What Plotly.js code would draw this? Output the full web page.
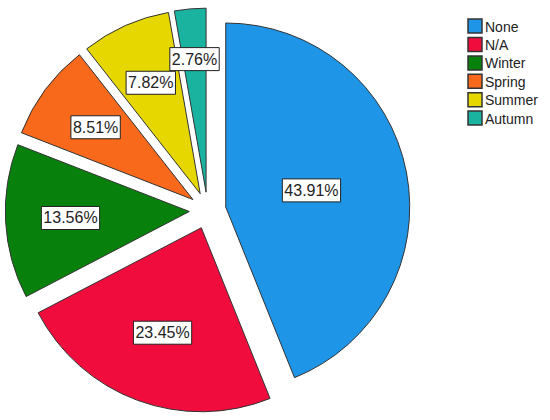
<!DOCTYPE html>
<html>
<head>
<meta charset="utf-8">
<script src="https://cdn.plot.ly/plotly-3.0.1.min.js"></script>
<style>html,body{margin:0;padding:0;background:#fff;}#chart{width:550px;height:420px;}</style>
</head>
<body>
<div id="chart"></div>
<script>
var categories = ["None", "N/A", "Winter", "Spring", "Summer", "Autumn"];
var percentages = [43.91, 23.45, 13.56, 8.51, 7.82, 2.76];
var sliceColors = ["#1f95e8", "#f00c3c", "#07800c", "#f9691c", "#e6d700", "#19b3a0"];

var PULL = 0.1;
var trace = {
  type: "pie",
  labels: categories,
  values: percentages,
  sort: false,
  direction: "clockwise",
  rotation: 0,
  pull: categories.map(function(){ return PULL; }),
  marker: {colors: sliceColors, line: {color: "#333333", width: 1}},
  texttemplate: "%{value:.2f}%",
  textposition: "inside",
  insidetextorientation: "horizontal",
  textfont: {family: "Liberation Sans, Arial, sans-serif", size: 16, color: "#222222"},
  hoverinfo: "label+percent",
  domain: {x: [0.0096, 0.7456], y: [0.0169, 0.9807]}
};

var layout = {
  width: 550, height: 420,
  margin: {l: 0, r: 0, t: 0, b: 0},
  paper_bgcolor: "#ffffff",
  showlegend: true,
  uniformtext: {mode: "show", minsize: 16},
  legend: {
    x: 0.78, y: 0.975, xanchor: "left", yanchor: "top",
    font: {family: "Liberation Sans, Arial, sans-serif", size: 14, color: "#222222"},
    bgcolor: "rgba(0,0,0,0)"
  }
};

var gd = document.getElementById("chart");
Plotly.newPlot(gd, [trace], layout, {staticPlot: true}).then(function(){
  var ns = "http://www.w3.org/2000/svg";
  var cd = gd.calcdata[0];
  var cd0 = cd[0];
  var placed = [];
  var groups = gd.querySelectorAll("g.slice");
  groups.forEach(function(g, i){
    var t = g.querySelector("g.slicetext text");
    var pt = cd[i];
    if(!t || !pt) return;
    var sx = (pt.cxFinal !== undefined) ? pt.cxFinal : cd0.cx + PULL * pt.pxmid[0];
    var sy = (pt.cyFinal !== undefined) ? pt.cyFinal : cd0.cy + PULL * pt.pxmid[1];
    var a = (pt.halfangle !== undefined) ? pt.halfangle : Math.PI * pt.v / cd0.vTotal;
    var f = 2 * Math.sin(a) / (3 * a);
    var bb = t.getBBox();
    var px = 2, py = 3;
    var w = bb.width + 2 * px, h = bb.height + 2 * py;
    var tx, ty, box;
    for(var k = 0; k < 40; k++){
      tx = sx + f * pt.pxmid[0];
      ty = sy + f * pt.pxmid[1];
      box = {x0: tx - w/2, x1: tx + w/2, y0: ty - h/2, y1: ty + h/2};
      var hit = placed.some(function(o){
        return !(box.x1 < o.x0 || box.x0 > o.x1 || box.y1 < o.y0 || box.y0 > o.y1);
      });
      if(!hit) break;
      f += 0.02;
    }
    placed.push(box);
    var tr = "translate(" + (tx - (bb.x + bb.width/2)) + "," + (ty - (bb.y + bb.height/2)) + ")";
    t.setAttribute("transform", tr);
    var r = document.createElementNS(ns, "rect");
    r.setAttribute("x", bb.x - px);
    r.setAttribute("y", bb.y - py);
    r.setAttribute("width", w);
    r.setAttribute("height", h);
    r.setAttribute("fill", "#ffffff");
    r.setAttribute("stroke", "#222222");
    r.setAttribute("stroke-width", "1");
    r.setAttribute("transform", tr);
    t.parentNode.insertBefore(r, t);
  });

  // legend styling: larger bordered squares, tighter spacing, compact text gap
  var lg = gd.querySelector("g.legend");
  if(lg){
    var lm = /translate\(([-\d.]+)[ ,]+([-\d.]+)\)/.exec(lg.getAttribute("transform") || "");
    if(lm) lg.setAttribute("transform", "translate(455," + lm[2] + ")");
  }
  var items = gd.querySelectorAll("g.legend g.traces");
  var y0 = null;
  items.forEach(function(it, i){
    var m = /translate\(([-\d.]+)[ ,]+([-\d.]+)\)/.exec(it.getAttribute("transform") || "");
    if(m){
      if(y0 === null) y0 = parseFloat(m[2]);
      it.setAttribute("transform", "translate(" + m[1] + "," + (y0 + i * 18.4) + ")");
    }
    var p = it.querySelector("path.legendpie");
    if(p){
      p.setAttribute("d", "M7,7H-7V-7H7Z");
      p.style.stroke = "#333333";
      p.style.strokeWidth = "1.5px";
    }
    var txt = it.querySelector("text.legendtext");
    if(txt) txt.setAttribute("x", 30);
  });
});
</script>
</body>
</html>
